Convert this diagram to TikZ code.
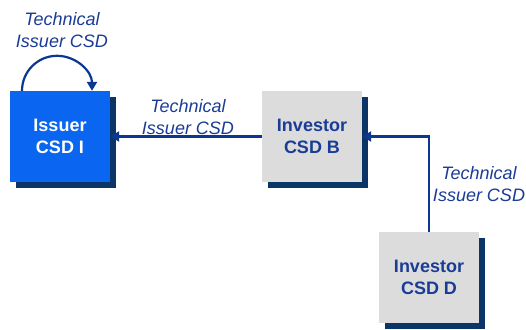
\documentclass[tikz,border=0pt]{standalone}
\usepackage{fontspec}
\setmainfont{Liberation Sans}
\usetikzlibrary{shadows,arrows.meta}

\definecolor{csdblue}{HTML}{0A66F0}
\definecolor{csdgray}{HTML}{DCDCDC}
\definecolor{csdnavy}{HTML}{0B3566}
\definecolor{csdtext}{HTML}{1A3C94}
\definecolor{csdline}{HTML}{0A3890}

\begin{document}
\begin{tikzpicture}[x=1pt, y=-1pt,
    csdbox/.style={rectangle, minimum width=100pt, minimum height=91pt, align=center,
        font=\fontsize{18}{22}\selectfont\bfseries, inner sep=0pt,
        drop shadow={shadow xshift=6pt, shadow yshift=-6pt, fill=csdnavy, opacity=1}},
    issuer/.style={csdbox, fill=csdblue, text=white},
    investor/.style={csdbox, fill=csdgray, text=csdtext},
    link/.style={draw=csdline, line width=2.2pt, -{Triangle[length=9pt, width=10pt]}},
    tag/.style={align=center, text=csdtext, font=\fontsize{18}{21.5}\selectfont\itshape}]

    \useasboundingbox (0,0) rectangle (526,329);

    % --- CSD boxes ---
    \node[issuer] (I) at (60,136.5) {Issuer\\CSD I};
    \node[investor] (B) at (312,136.5) {Investor\\CSD B};
    \node[investor] (D) at (429,277.5) {Investor\\CSD D};

    % --- Links ---
    \draw[link] ([xshift=-38pt]I.north) arc[start angle=180, end angle=0, radius=35pt];
    \draw[link] (B.west) -- (I.east);
    \draw[link] (D.north) |- (B.east);

    % --- Labels ---
    \node[tag] (tagI) at (62,30) {Technical\\Issuer CSD};
    \node[tag] (tagB) at (188,117) {Technical\\Issuer CSD};
    \node[tag] (tagD) at (479,184) {Technical\\Issuer CSD};

\end{tikzpicture}
\end{document}
